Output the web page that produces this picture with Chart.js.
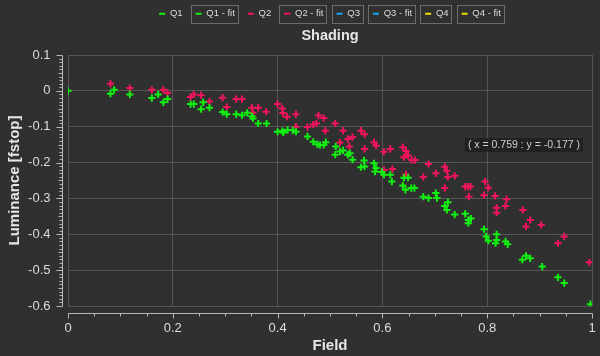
<!DOCTYPE html>
<html><head><meta charset="utf-8">
<script src="https://cdn.jsdelivr.net/npm/chart.js@4.4.1/dist/chart.umd.min.js"></script>
<style>html,body{margin:0;padding:0;background:#303030;overflow:hidden}canvas{display:block}</style>
</head><body>
<canvas id="c" width="600" height="356"></canvas>
<script>
// ---- data ----
const seriesNames = ['Q1', 'Q1 - fit', 'Q2', 'Q2 - fit', 'Q3', 'Q3 - fit', 'Q4', 'Q4 - fit'];
const boxedLegend = ['Q1 - fit', 'Q2 - fit', 'Q3', 'Q3 - fit', 'Q4', 'Q4 - fit'];
const seriesColors = ['#12f012', '#12f012', '#f0145a', '#f0145a', '#10a8f0', '#10a8f0', '#f0e000', '#f0e000'];

const q1X = [0, 0.081, 0.088, 0.118, 0.160, 0.172, 0.182, 0.190, 0.234, 0.240, 0.258, 0.254, 0.270, 0.295, 0.303, 0.321, 0.332, 0.342, 0.351, 0.353, 0.363, 0.379, 0.400, 0.409, 0.411, 0.419, 0.429, 0.435, 0.457, 0.468, 0.476, 0.481, 0.488, 0.492, 0.511, 0.510, 0.519, 0.525, 0.534, 0.538, 0.543, 0.565, 0.559, 0.566, 0.584, 0.588, 0.586, 0.599, 0.603, 0.615, 0.618, 0.639, 0.641, 0.649, 0.644, 0.655, 0.661, 0.678, 0.688, 0.702, 0.704, 0.725, 0.719, 0.723, 0.738, 0.758, 0.764, 0.769, 0.764, 0.794, 0.798, 0.802, 0.818, 0.818, 0.816, 0.835, 0.839, 0.867, 0.874, 0.882, 0.905, 0.935, 0.947, 0.997];
const q1Y = [0, -0.008, 0.003, -0.010, -0.020, -0.010, -0.032, -0.023, -0.037, -0.037, -0.032, -0.051, -0.047, -0.059, -0.065, -0.065, -0.068, -0.061, -0.071, -0.077, -0.091, -0.091, -0.114, -0.112, -0.116, -0.109, -0.110, -0.114, -0.127, -0.142, -0.149, -0.151, -0.151, -0.143, -0.155, -0.178, -0.169, -0.166, -0.178, -0.174, -0.192, -0.194, -0.213, -0.211, -0.202, -0.215, -0.225, -0.226, -0.234, -0.234, -0.253, -0.264, -0.242, -0.242, -0.276, -0.271, -0.271, -0.295, -0.299, -0.285, -0.299, -0.311, -0.321, -0.332, -0.345, -0.343, -0.360, -0.356, -0.369, -0.386, -0.406, -0.418, -0.400, -0.416, -0.425, -0.420, -0.428, -0.471, -0.460, -0.467, -0.490, -0.520, -0.536, -0.595];

const q2X = [0.081, 0.118, 0.160, 0.182, 0.190, 0.234, 0.240, 0.254, 0.270, 0.295, 0.303, 0.321, 0.332, 0.351, 0.353, 0.363, 0.378, 0.400, 0.409, 0.410, 0.418, 0.435, 0.435, 0.457, 0.468, 0.474, 0.478, 0.488, 0.491, 0.510, 0.525, 0.519, 0.534, 0.543, 0.537, 0.559, 0.566, 0.566, 0.584, 0.588, 0.603, 0.615, 0.639, 0.645, 0.649, 0.641, 0.656, 0.662, 0.688, 0.603, 0.619, 0.645, 0.678, 0.702, 0.719, 0.723, 0.725, 0.738, 0.719, 0.758, 0.763, 0.768, 0.765, 0.796, 0.802, 0.794, 0.815, 0.837, 0.835, 0.818, 0.818, 0.868, 0.882, 0.874, 0.903, 0.947, 0.935, 0.995];
const q2Y = [0.020, 0.008, 0.003, 0.003, -0.006, -0.017, -0.010, -0.012, -0.030, -0.019, -0.045, -0.023, -0.023, -0.047, -0.061, -0.047, -0.058, -0.037, -0.049, -0.062, -0.072, -0.065, -0.100, -0.101, -0.094, -0.091, -0.069, -0.076, -0.111, -0.091, -0.111, -0.144, -0.134, -0.129, -0.155, -0.111, -0.121, -0.162, -0.143, -0.153, -0.170, -0.162, -0.157, -0.168, -0.180, -0.185, -0.193, -0.193, -0.204, -0.221, -0.218, -0.233, -0.240, -0.230, -0.212, -0.223, -0.240, -0.237, -0.271, -0.267, -0.267, -0.267, -0.295, -0.253, -0.270, -0.291, -0.293, -0.302, -0.321, -0.326, -0.340, -0.332, -0.360, -0.378, -0.374, -0.406, -0.425, -0.478];

const xRange = [0, 1];
const yRange = [-0.6, 0.1];
const xMajorStep = 0.2, xMinorStep = 0.05;
const yMajorStep = 0.1, yMinorStep = 0.01;
const cursorReadout = { x: 0.759, y: -0.177 };

const chartTitle = 'Shading';
const xTitle = 'Field';
const yTitle = 'Luminance [fstop]';

// ---- build ----
function pts(xs, ys) {
  const n = Math.min(xs.length, ys.length);
  const out = [];
  for (let i = 0; i < n; i++) out.push({ x: xs[i], y: ys[i] });
  return out;
}
const seriesData = { 'Q1': pts(q1X, q1Y), 'Q2': pts(q2X, q2Y) };

const FONT = "'Liberation Sans', Arial, sans-serif";
Chart.defaults.font.family = FONT;
Chart.defaults.color = '#dcdcdc';

const datasets = seriesNames.map((name, i) => ({
  label: name,
  data: seriesData[name] || [],
  pointStyle: 'cross',
  pointRadius: 3.6,
  pointHoverRadius: 3.6,
  pointBorderWidth: 2,
  borderColor: seriesColors[i],
  backgroundColor: seriesColors[i],
  showLine: false
}));

function fmt(v) { const r = Math.round(v * 10) / 10; return (Object.is(r, -0) ? 0 : r).toString(); }

const axisDecor = {
  id: 'axisDecor',
  beforeDraw(chart) {
    const { ctx, width, height } = chart;
    ctx.save();
    ctx.fillStyle = '#303030';
    ctx.fillRect(0, 0, width, height);
    ctx.restore();
  },
  afterDraw(chart) {
    const { ctx, chartArea: a, scales: { x, y } } = chart;
    ctx.save();
    ctx.strokeStyle = '#b8b8b8';
    ctx.lineWidth = 1;
    // y axis line (offset left of plot)
    const yx = Math.round(a.left - 6) + 0.5;
    ctx.beginPath();
    ctx.moveTo(yx, Math.round(y.getPixelForValue(yRange[1])) + 0.5);
    ctx.lineTo(yx, Math.round(y.getPixelForValue(yRange[0])) + 0.5);
    const yn = Math.round((yRange[1] - yRange[0]) / yMinorStep);
    const majEvery = Math.round(yMajorStep / yMinorStep);
    for (let i = 0; i <= yn; i++) {
      const v = yRange[0] + i * yMinorStep;
      const py = Math.round(y.getPixelForValue(v)) + 0.5;
      const len = (i % majEvery === 0) ? 6 : (i % (majEvery / 2) === 0 ? 4 : 3);
      ctx.moveTo(yx, py); ctx.lineTo(yx - len, py);
    }
    ctx.stroke();
    // x axis line (offset below plot)
    const xy = Math.round(a.bottom + 7) + 0.5;
    ctx.beginPath();
    ctx.moveTo(Math.round(x.getPixelForValue(xRange[0])) + 0.5, xy);
    ctx.lineTo(Math.round(x.getPixelForValue(xRange[1])) + 0.5, xy);
    const xn = Math.round((xRange[1] - xRange[0]) / xMinorStep);
    const xMaj = Math.round(xMajorStep / xMinorStep);
    for (let i = 0; i <= xn; i++) {
      const v = xRange[0] + i * xMinorStep;
      const px = Math.round(x.getPixelForValue(v)) + 0.5;
      const len = (i % xMaj === 0) ? 5 : 3;
      ctx.moveTo(px, xy); ctx.lineTo(px, xy + len);
    }
    ctx.stroke();

    // boxed legend items
    const lg = chart.legend;
    if (lg && lg.legendHitBoxes) {
      ctx.strokeStyle = '#6c6c6c';
      lg.legendItems.forEach((it, i) => {
        if (!boxedLegend.includes(it.text)) return;
        const hb = lg.legendHitBoxes[i];
        ctx.strokeRect(Math.round(hb.left - 5) + 0.5, Math.round(hb.top + hb.height / 2 - 9) + 0.5, Math.round(hb.width + 8), 18);
      });
    }

    // cursor readout
    const txt = '( x = ' + cursorReadout.x.toFixed(3) + ' : y = ' + cursorReadout.y.toFixed(3) + ' )';
    ctx.font = '10.5px ' + FONT;
    const tw = ctx.measureText(txt).width;
    const bx = a.right - 9 - (tw + 6), by = a.top + 83;
    ctx.fillStyle = 'rgba(28,28,28,0.75)';
    ctx.fillRect(bx, by, tw + 6, 14);
    ctx.fillStyle = '#d0d0d0';
    ctx.textBaseline = 'middle';
    ctx.textAlign = 'left';
    ctx.fillText(txt, bx + 3, by + 7.5);
    ctx.restore();
  }
};

new Chart(document.getElementById('c'), {
  type: 'scatter',
  data: { datasets },
  plugins: [axisDecor],
  options: {
    responsive: false,
    devicePixelRatio: 1,
    animation: false,
    events: [],
    layout: { padding: { top: -4, right: 8, bottom: 0, left: 0 } },
    plugins: {
      tooltip: { enabled: false },
      legend: {
        position: 'top',
        fullSize: false,
        weight: 3000,
        labels: {
          color: '#dcdcdc',
          font: { size: 9.5, family: FONT },
          boxWidth: 6,
          boxHeight: 2,
          padding: 13,
          generateLabels(chart) {
            return chart.data.datasets.map((d, i) => ({
              text: d.label, fillStyle: d.borderColor, strokeStyle: d.borderColor,
              lineWidth: 0, hidden: false, datasetIndex: i, fontColor: '#dcdcdc'
            }));
          }
        }
      },
      title: {
        display: true,
        text: chartTitle,
        fullSize: false,
        weight: 500,
        color: '#e6e6e6',
        font: { size: 14.5, weight: 'bold', family: FONT, lineHeight: 1 },
        padding: { top: 0, bottom: 12 }
      }
    },
    scales: {
      x: {
        type: 'linear',
        min: xRange[0], max: xRange[1],
        afterFit(s) { s.height = 50; },
        grid: { color: '#565656', lineWidth: 1, drawTicks: true, tickLength: 15, tickColor: 'rgba(0,0,0,0)' },
        border: { display: false },
        ticks: { stepSize: xMajorStep, padding: 0, color: '#dcdcdc', font: { size: 13 }, callback: fmt, maxRotation: 0 },
        title: { display: true, text: xTitle, color: '#e6e6e6', font: { size: 15, weight: 'bold' }, padding: { top: 0, bottom: 1 } }
      },
      y: {
        type: 'linear',
        min: yRange[0], max: yRange[1],
        afterFit(s) { s.width = 68; },
        grid: { color: '#565656', lineWidth: 1, drawTicks: true, tickLength: 17.5, tickColor: 'rgba(0,0,0,0)' },
        border: { display: false },
        ticks: { stepSize: yMajorStep, padding: 0, color: '#dcdcdc', font: { size: 13 }, callback: fmt },
        title: { display: true, text: yTitle, color: '#e6e6e6', font: { size: 15, weight: 'bold' }, padding: { top: 5.5, bottom: 0 } }
      }
    }
  }
});
</script>
</body></html>
